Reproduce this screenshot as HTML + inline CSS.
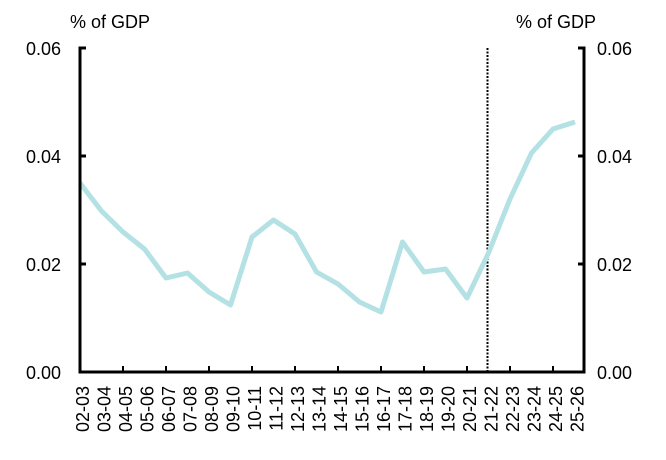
<!DOCTYPE html>
<html><head><style>
body{margin:0;background:#fff;}
svg{display:block;font-family:"Liberation Sans",sans-serif;}
</style></head><body>
<svg width="666" height="460" viewBox="0 0 666 460">
<g font-size="18" fill="#000">
<text x="110" y="28" text-anchor="middle">% of GDP</text>
<text x="556" y="28" text-anchor="middle">% of GDP</text>
<text x="61" y="55" text-anchor="end">0.06</text>
<text x="61" y="163" text-anchor="end">0.04</text>
<text x="61" y="271" text-anchor="end">0.02</text>
<text x="61" y="379" text-anchor="end">0.00</text>
<text x="597" y="55">0.06</text>
<text x="597" y="163">0.04</text>
<text x="597" y="271">0.02</text>
<text x="597" y="379">0.00</text>
</g>
<line x1="487.5" y1="48" x2="487.5" y2="372" stroke="#000" stroke-width="2" stroke-dasharray="2,1.5"/>
<polyline fill="none" stroke="#b4e1e4" stroke-width="5" stroke-linejoin="round" points="80,183 101.5,211 123,232 144.5,249 166,278 187.5,273 209,292 230.5,305 252,237 273.5,220 295,234 316.5,272 338,284 359.5,302 381,312 402.5,242 424,272 445.5,269 467,298 488.5,253 510,199 531.5,153 553,129 575,122"/>
<g stroke="#000" stroke-width="3" fill="none">
<path d="M86,48 H80 V372 H584 V48 H578"/>
<path d="M80,156 H86 M80,264 H86 M584,156 H578 M584,264 H578"/>
</g>
<g stroke="#000" stroke-width="2">
<path d="M123,372 v-6 M166,372 v-6 M209,372 v-6 M252,372 v-6 M295,372 v-6 M338,372 v-6 M381,372 v-6 M424,372 v-6 M467,372 v-6 M510,372 v-6 M553,372 v-6"/>
</g>
<g font-size="18" fill="#000" text-anchor="end">
<text transform="translate(89,386) rotate(-90)">02-03</text>
<text transform="translate(110.5,386) rotate(-90)">03-04</text>
<text transform="translate(132,386) rotate(-90)">04-05</text>
<text transform="translate(153.5,386) rotate(-90)">05-06</text>
<text transform="translate(175,386) rotate(-90)">06-07</text>
<text transform="translate(196.5,386) rotate(-90)">07-08</text>
<text transform="translate(218,386) rotate(-90)">08-09</text>
<text transform="translate(239.5,386) rotate(-90)">09-10</text>
<text transform="translate(261,386) rotate(-90)">10-11</text>
<text transform="translate(282.5,386) rotate(-90)">11-12</text>
<text transform="translate(304,386) rotate(-90)">12-13</text>
<text transform="translate(325.5,386) rotate(-90)">13-14</text>
<text transform="translate(347,386) rotate(-90)">14-15</text>
<text transform="translate(368.5,386) rotate(-90)">15-16</text>
<text transform="translate(390,386) rotate(-90)">16-17</text>
<text transform="translate(411.5,386) rotate(-90)">17-18</text>
<text transform="translate(433,386) rotate(-90)">18-19</text>
<text transform="translate(454.5,386) rotate(-90)">19-20</text>
<text transform="translate(476,386) rotate(-90)">20-21</text>
<text transform="translate(497.5,386) rotate(-90)">21-22</text>
<text transform="translate(519,386) rotate(-90)">22-23</text>
<text transform="translate(540.5,386) rotate(-90)">23-24</text>
<text transform="translate(562,386) rotate(-90)">24-25</text>
<text transform="translate(583.5,386) rotate(-90)">25-26</text>
</g>
</svg>
</body></html>
